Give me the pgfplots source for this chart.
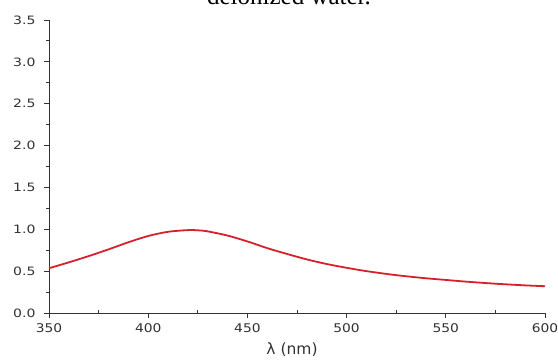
\documentclass[border=0pt]{standalone}
\usepackage{pgfplots}
\pgfplotsset{compat=1.18}
\usepackage{fontspec}
\setmainfont{DejaVu Sans}
\newfontfamily\serifttl{Liberation Serif}
\definecolor{axgray}{RGB}{50,50,50}
\definecolor{curvered}{RGB}{214,32,42}
\pgfkeys{/pgf/number format/assume math mode=true}
\begin{document}
\begin{tikzpicture}
\useasboundingbox (-49bp,-47bp) rectangle (509bp,313bp);
\begin{axis}[
  at={(0,0)}, anchor=origin,
  scale only axis,
  width=496bp, height=293bp,
  xmin=350, xmax=600, ymin=0, ymax=3.5,
  axis x line=bottom, axis y line=left,
  axis line style={-, axgray, line width=1pt},
  xtick={350,400,...,600},
  ytick={0,0.5,...,3.5},
  minor x tick num=1, minor y tick num=1,
  tick align=outside,
  major tick length=5bp, minor tick length=3bp,
  tick style={axgray, line width=0.9pt},
  minor x tick style={yshift=3bp},
  /pgf/number format/assume math mode=true,
  xticklabel={\scalebox{1.15}[1]{\pgfmathprintnumber[assume math mode=true,fixed,1000 sep={}]{\tick}}},
  yticklabel={\scalebox{1.22}[1]{\pgfmathprintnumber[assume math mode=true,fixed,fixed zerofill,precision=1]{\tick}}},
  ticklabel style={font=\fontsize{12bp}{14bp}\selectfont, text=axgray},
  yticklabel style={xshift=-5bp, font=\fontsize{11.5bp}{14bp}\selectfont},
  xticklabel style={yshift=-2bp},
  xlabel={λ (nm)},
  xlabel style={font=\fontsize{15.5bp}{18bp}\selectfont, text=axgray,
    at={(axis description cs:0.49,0)}, anchor=base, yshift=-41bp},
  clip=false,
]
\addplot[curvered, line width=1.8pt, smooth] coordinates {
(350,0.535) (360,0.605) (370,0.68) (380,0.76) (390,0.845) (400,0.92)
(410,0.97) (420,0.99) (425,0.988) (430,0.975) (440,0.925) (450,0.855)
(460,0.775) (470,0.705) (480,0.64) (490,0.585) (500,0.54) (510,0.50)
(525,0.452) (540,0.415) (550,0.395) (560,0.375) (575,0.35) (590,0.33) (600,0.32)
};
\end{axis}
\node[anchor=base, font=\serifttl\fontsize{25bp}{28bp}\selectfont] at (240bp,308bp) {deionized water.};
\end{tikzpicture}
\end{document}
